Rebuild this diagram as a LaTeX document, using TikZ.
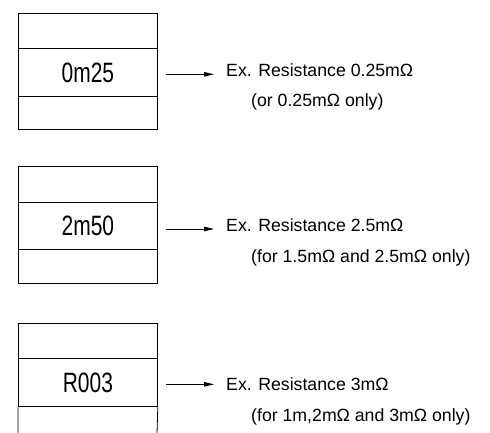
\documentclass[tikz,border=0pt]{standalone}
\usepackage{fontspec}
\setmainfont{Liberation Sans}
\newfontfamily\boxfont[FakeStretch=0.75]{Liberation Sans}
\usetikzlibrary{arrows.meta}
\begin{document}
\begin{tikzpicture}[x=1pt,y=-1pt,
  sect/.style={draw=black,line width=0.8pt,minimum width=139pt,inner sep=0pt,anchor=north west},
  lbl/.style={font=\boxfont\fontsize{28}{30}\selectfont},
  note/.style={anchor=base west,inner sep=0pt,font=\fontsize{17.7}{20}\selectfont},
  conn/.style={line width=0.8pt,-{Triangle[length=10pt,width=4.5pt]}}]
\useasboundingbox (0,0) rectangle (490,432);
% box 1
\node[sect,minimum height=35pt] (t1) at (18,13) {};
\node[sect,minimum height=48pt,lbl] (m1) at (18,48) {0m25};
\node[sect,minimum height=33pt] (b1) at (18,96) {};
% box 2
\node[sect,minimum height=36pt] (t2) at (18,166) {};
\node[sect,minimum height=47pt,lbl] (m2) at (18,202) {2m50};
\node[sect,minimum height=34pt] (b2) at (18,249) {};
% box 3
\node[sect,minimum height=35pt] (t3) at (18,323) {};
\node[sect,minimum height=48pt,lbl] (m3) at (18,358) {R003};
\coordinate (b3l) at (18,434);
\coordinate (b3r) at (157,434);
\draw[line width=0.8pt] (m3.south west) -- (b3l) (m3.south east) -- (b3r);
% notes
\node[note] (n1a) at (226,76.7) {Ex. Resistance 0.25mΩ};
\node[note] (n1b) at (251,106) {(or 0.25mΩ only)};
\node[note] (n2a) at (226,231.7) {Ex. Resistance 2.5mΩ};
\node[note] (n2b) at (251,262) {(for 1.5mΩ and 2.5mΩ only)};
\node[note] (n3a) at (226,390.7) {Ex. Resistance 3mΩ};
\node[note] (n3b) at (251,421) {(for 1m,2mΩ and 3mΩ only)};
% connectors
\coordinate (s1) at (166,74.3); \coordinate (e1) at (214,74.3);
\coordinate (s2) at (166,229);  \coordinate (e2) at (214,229);
\coordinate (s3) at (166,384.3); \coordinate (e3) at (214,384.3);
\draw[conn] (s1) -- (e1);
\draw[conn] (s2) -- (e2);
\draw[conn] (s3) -- (e3);
\end{tikzpicture}
\end{document}
